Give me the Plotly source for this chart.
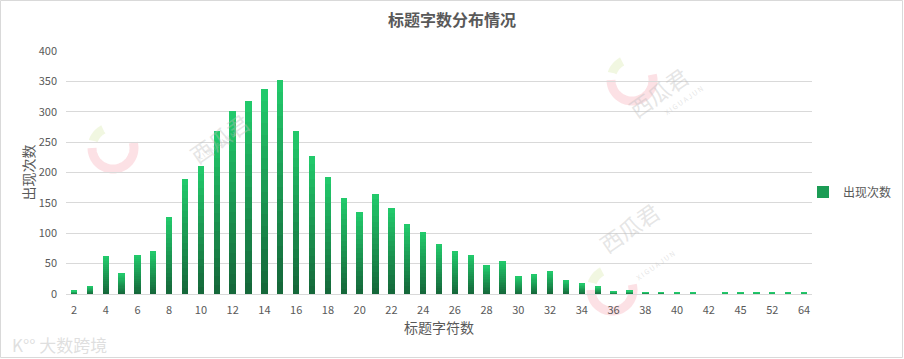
import numpy as np
import plotly.graph_objects as go

categories = [str(c) for c in list(range(2, 43)) + [44, 45, 48, 52, 56, 64]]
counts = [5, 13, 62, 34, 65, 70, 127, 190, 210, 268, 302, 318, 337, 352, 268, 227,
          192, 158, 135, 165, 142, 115, 102, 83, 70, 65, 47, 55, 28, 32,
          38, 23, 17, 12, 4, 5, 3, 3, 2, 2, 0,
          2, 2, 2, 2, 2, 2]
tick_labels = [str(c) for c in list(range(2, 43, 2)) + [45, 52, 64]]
series_name = "出现次数"

W, H = 904, 359
ML, MR, MT, MB = 66, 92, 51, 65
PW, PH = W - ML - MR, H - MT - MB

FONT = "Noto Sans CJK SC, Microsoft YaHei, sans-serif"
GREY = "#595959"

fig = go.Figure()

# vertical gradient per bar: stacked slices from dark (bottom) to bright (top)
N = 18
dark = np.array([0x15, 0x68, 0x3a])
bright = np.array([0x22, 0xc9, 0x6b])
vals = np.array(counts, dtype=float)
for i in range(N):
    t = i / (N - 1)
    c = dark + (bright - dark) * t
    col = "rgb(%d,%d,%d)" % tuple(c.round().astype(int))
    fig.add_bar(x=categories, y=vals / N, name=series_name,
                marker=dict(color=col, line=dict(width=0)),
                showlegend=False, legendgroup="a", hoverinfo="skip")
# legend entry
fig.add_bar(x=[categories[0]], y=[0], name=series_name,
            marker=dict(color="#1c9c55", line=dict(width=0)),
            showlegend=True, legendgroup="a")

def px2paper(px, py):
    return (px - ML) / PW, (H - MB - py) / PH

shapes = []
# outer border
x0, y0 = px2paper(0.5, H - 1.5)
x1, y1 = px2paper(W - 1.5, 0.5)
shapes.append(dict(type="rect", xref="paper", yref="paper", x0=x0, y0=y0, x1=x1, y1=y1,
                   line=dict(color="#d9d9d9", width=1), layer="below"))

def arc(cx, cy, r, a0, a1, color, width):
    ang = np.radians(np.linspace(a0, a1, 40))
    pts = [px2paper(cx + r * np.cos(a), cy - r * np.sin(a)) for a in ang]
    path = "M " + " L ".join("%.4f,%.4f" % p for p in pts)
    return dict(type="path", xref="paper", yref="paper", path=path,
                line=dict(color=color, width=width), layer="below")

for (cx, cy) in [(113, 148), (632, 80), (612, 290)]:
    shapes.append(arc(cx, cy, 21, 180, 375, "rgba(246,170,180,0.35)", 9))
    shapes.append(arc(cx, cy, 21, 118, 160, "rgba(214,232,170,0.35)", 9))

annotations = []
for (tx, ty, sx, sy) in [(180, 103, 192, 126), (697, 57, 708, 80), (668, 262, 680, 285)]:
    annotations.append(dict(text="西瓜君", x=px2paper(tx, ty)[0], y=px2paper(tx, ty)[1],
                            xref="paper", yref="paper", showarrow=False, textangle=-35,
                            font=dict(family=FONT, size=22, color="rgba(190,190,190,0.4)")))
    annotations.append(dict(text="X I G U A J U N", x=px2paper(sx, sy)[0], y=px2paper(sx, sy)[1],
                            xref="paper", yref="paper", showarrow=False, textangle=-35,
                            font=dict(family=FONT, size=7, color="rgba(190,190,190,0.4)")))
annotations.append(dict(text="K°° 大数跨境", x=px2paper(10, 344)[0], y=px2paper(10, 344)[1],
                        xref="paper", yref="paper", showarrow=False, xanchor="left",
                        yanchor="middle",
                        font=dict(family=FONT, size=17, color="rgba(215,215,215,0.8)")))

lx, ly = px2paper(803, 192)

fig.update_layout(
    width=W, height=H, autosize=False,
    margin=dict(l=ML, r=MR, t=MT, b=MB, autoexpand=False),
    barmode="stack", bargap=0.6,
    plot_bgcolor="white", paper_bgcolor="white",
    font=dict(family=FONT, color=GREY, size=11),
    title=dict(text="<b>标题字数分布情况</b>", x=0.5, xref="container", xanchor="center",
               y=1 - 20 / H, yanchor="middle", font=dict(size=16, color=GREY, family=FONT)),
    xaxis=dict(type="category", categoryorder="array", categoryarray=categories,
               tickmode="array", tickvals=tick_labels, ticktext=tick_labels,
               showgrid=False, showline=True, linecolor="#d9d9d9", linewidth=1,
               ticks="", tickfont=dict(size=11, color=GREY), ticklabelstandoff=6,
               title=dict(text="标题字符数", font=dict(size=14, color=GREY), standoff=6),
               fixedrange=True),
    yaxis=dict(range=[0, 400], dtick=50, showgrid=True, gridcolor="#d9d9d9", gridwidth=1,
               zeroline=False, showline=False, ticks="", tickfont=dict(size=11, color=GREY),
               ticklabelstandoff=8,
               title=dict(text="出现次数", font=dict(size=14, color=GREY), standoff=0),
               fixedrange=True),
    legend=dict(x=lx, xanchor="left", y=ly, yanchor="middle",
                font=dict(size=12, color=GREY), itemwidth=30,
                bgcolor="rgba(0,0,0,0)"),
    shapes=shapes, annotations=annotations,
)

fig.write_html("out.html",
               config={"displayModeBar": False, "responsive": False},
               post_script="document.body.style.margin='0';document.body.style.overflow='hidden';")
